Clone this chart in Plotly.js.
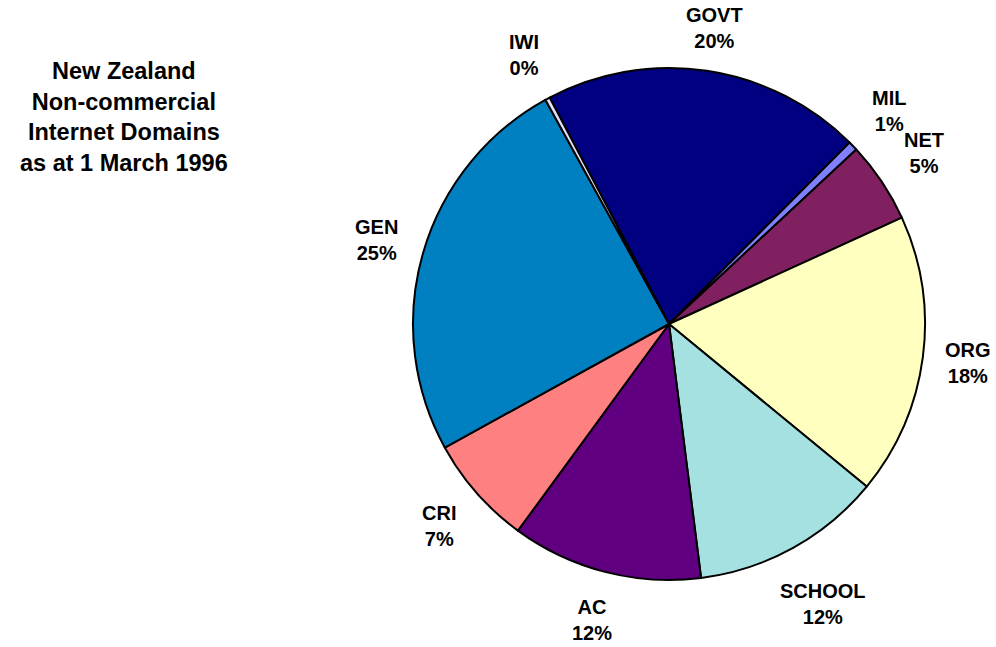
<!DOCTYPE html>
<html>
<head>
<meta charset="utf-8">
<script src="https://cdn.plot.ly/plotly-3.0.1.min.js"></script>
<style>html,body{margin:0;padding:0;background:#fff;}#chart{width:996px;height:647px;}</style>
</head>
<body>
<div id="chart"></div>
<script>
// Domains in clockwise order starting from the GOVT slice
var categories = ["GOVT", "MIL", "NET", "ORG", "SCHOOL", "AC", "CRI", "GEN", "IWI"];
var domainCounts = [67, 2, 17, 59, 40, 40, 23, 83, 1];
var sliceColors = ["#000080", "#8080FF", "#802060", "#FFFFC0", "#A6E1E1", "#600080", "#FF8080", "#0080C0", "#E0E0FF"];
var titleLines = ["New Zealand", "Non-commercial", "Internet Domains", "as at 1 March 1996"];

var W = 996, H = 647;
var cx = 669, cy = 324, R = 256;
var startAngle = -27.8;          // first slice boundary, degrees clockwise from 12 o'clock
var FONT = "Liberation Sans, Arial, sans-serif";
var labelSize = 20, labelGap = 20, lineH = labelSize * 1.3;

var trace = {
  type: "pie",
  labels: categories,
  values: domainCounts,
  sort: false,
  direction: "clockwise",
  rotation: startAngle,
  marker: {colors: sliceColors, line: {color: "#000000", width: 2}},
  textinfo: "none",
  hoverinfo: "label+value+percent",
  showlegend: false,
  domain: {
    x: [(cx - R) / W, (cx + R) / W],
    y: [(H - cy - R) / H, (H - cy + R) / H]
  }
};

// Data labels placed outside each slice along its mid-angle (Excel style)
var ctx = document.createElement("canvas").getContext("2d");
ctx.font = "bold " + labelSize + "px " + FONT;
var total = domainCounts.reduce(function (a, b) { return a + b; }, 0);
var cum = 0;
var annotations = [];
categories.forEach(function (name, i) {
  var v = domainCounts[i];
  var mid = (startAngle + 360 * (cum + v / 2) / total) * Math.PI / 180;
  cum += v;
  var pct = Math.round(100 * v / total) + "%";
  var w = Math.max(ctx.measureText(name).width, ctx.measureText(pct).width);
  var h = 2 * lineH;
  var ext = (w / 2) * Math.abs(Math.sin(mid)) + (h / 2) * Math.abs(Math.cos(mid));
  var d = R + labelGap + ext;
  var px = cx + d * Math.sin(mid);
  var py = cy - d * Math.cos(mid);
  py = Math.max(py, h / 2 + 2);
  annotations.push({
    text: name + "<br>" + pct,
    xref: "paper", yref: "paper",
    x: px / W, y: 1 - py / H,
    xanchor: "center", yanchor: "middle",
    showarrow: false, align: "center",
    font: {family: FONT, size: labelSize, color: "#000000", weight: "bold"}
  });
});

annotations.push({
  text: titleLines.join("<br>"),
  xref: "paper", yref: "paper",
  x: 124 / W, y: 1 - 117 / H,
  xanchor: "center", yanchor: "middle",
  showarrow: false, align: "center",
  font: {family: FONT, size: 23.5, color: "#000000", weight: "bold"}
});

var layout = {
  width: W, height: H,
  margin: {l: 0, r: 0, t: 0, b: 0},
  paper_bgcolor: "#ffffff",
  showlegend: false,
  annotations: annotations
};

Plotly.newPlot("chart", [trace], layout, {displayModeBar: false, staticPlot: true});
</script>
</body>
</html>
